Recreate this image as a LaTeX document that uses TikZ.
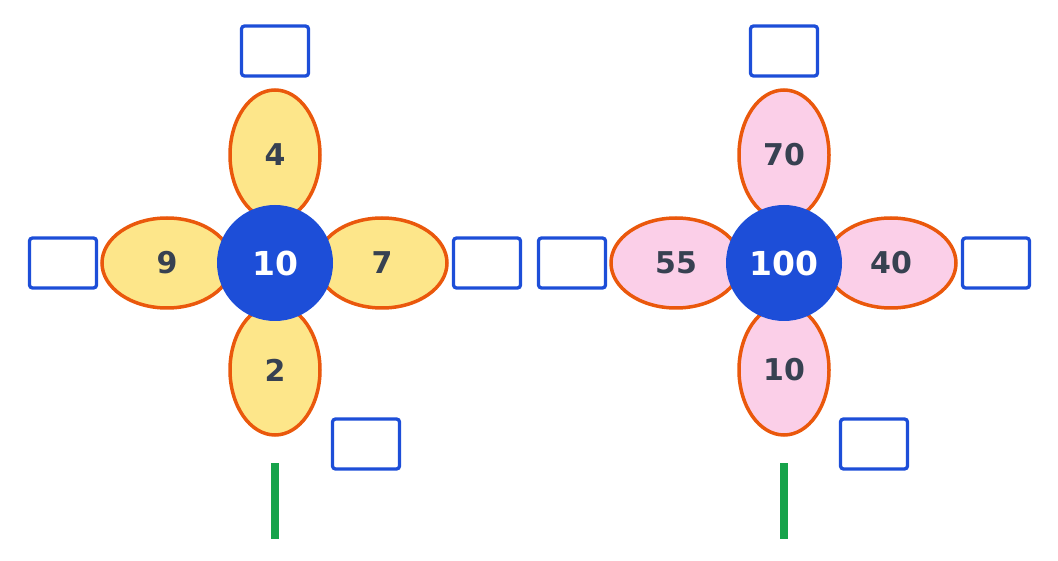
\documentclass[tikz,border=0pt]{standalone}
\usepackage{fontspec}
\setmainfont{DejaVu Sans}
\definecolor{petalline}{HTML}{EA580C}
\definecolor{yel}{HTML}{FDE68A}
\definecolor{pnk}{HTML}{FBCFE8}
\definecolor{blu}{HTML}{1D4ED8}
\definecolor{grn}{HTML}{16A34A}
\definecolor{txt}{HTML}{374151}
\tikzset{
  vpetal/.style={draw=petalline, line width=3.5pt, ellipse, minimum width=90pt, minimum height=130pt, inner sep=0pt, text=txt, font=\bfseries\fontsize{30}{30}\selectfont},
  hpetal/.style={vpetal, minimum width=130pt, minimum height=90pt},
  heart/.style={circle, fill=blu, minimum size=116pt, inner sep=0pt, text=white, font=\bfseries\fontsize{33}{33}\selectfont},
  answerbox/.style={draw=blu, line width=3.3pt, rounded corners=3pt, minimum width=67pt, minimum height=50pt, inner sep=0pt, fill=white},
  stem/.style={draw=grn, line width=8pt}
}
\usetikzlibrary{shapes.geometric}
\begin{document}
\begin{tikzpicture}[x=1pt,y=-1pt]
\useasboundingbox (0,0) rectangle (1058,561);
% left flower
\node[vpetal, fill=yel] (lt) at (275,155) {4};
\node[hpetal, fill=yel] (ll) at (167,263) {9};
\node[hpetal, fill=yel] (lr) at (382,263) {7};
\node[vpetal, fill=yel] (lb) at (275,370) {2};
\node[heart] (lc) at (275,263) {10};
\node[answerbox] (lbt) at (275,51) {};
\node[answerbox] (lbl) at (63,263) {};
\node[answerbox] (lbr) at (487,263) {};
\node[answerbox] (lbb) at (366,444) {};
\coordinate (ls1) at (275,463);
\coordinate (ls2) at (275,539);
\draw[stem] (ls1) -- (ls2);
% right flower
\node[vpetal, fill=pnk] (rt) at (784,155) {70};
\node[hpetal, fill=pnk] (rl) at (676,263) {55};
\node[hpetal, fill=pnk] (rr) at (891,263) {40};
\node[vpetal, fill=pnk] (rb) at (784,370) {10};
\node[heart] (rc) at (784,263) {100};
\node[answerbox] (rbt) at (784,51) {};
\node[answerbox] (rbl) at (572,263) {};
\node[answerbox] (rbr) at (996,263) {};
\node[answerbox] (rbb) at (874,444) {};
\coordinate (rs1) at (784,463);
\coordinate (rs2) at (784,539);
\draw[stem] (rs1) -- (rs2);
\end{tikzpicture}
\end{document}
